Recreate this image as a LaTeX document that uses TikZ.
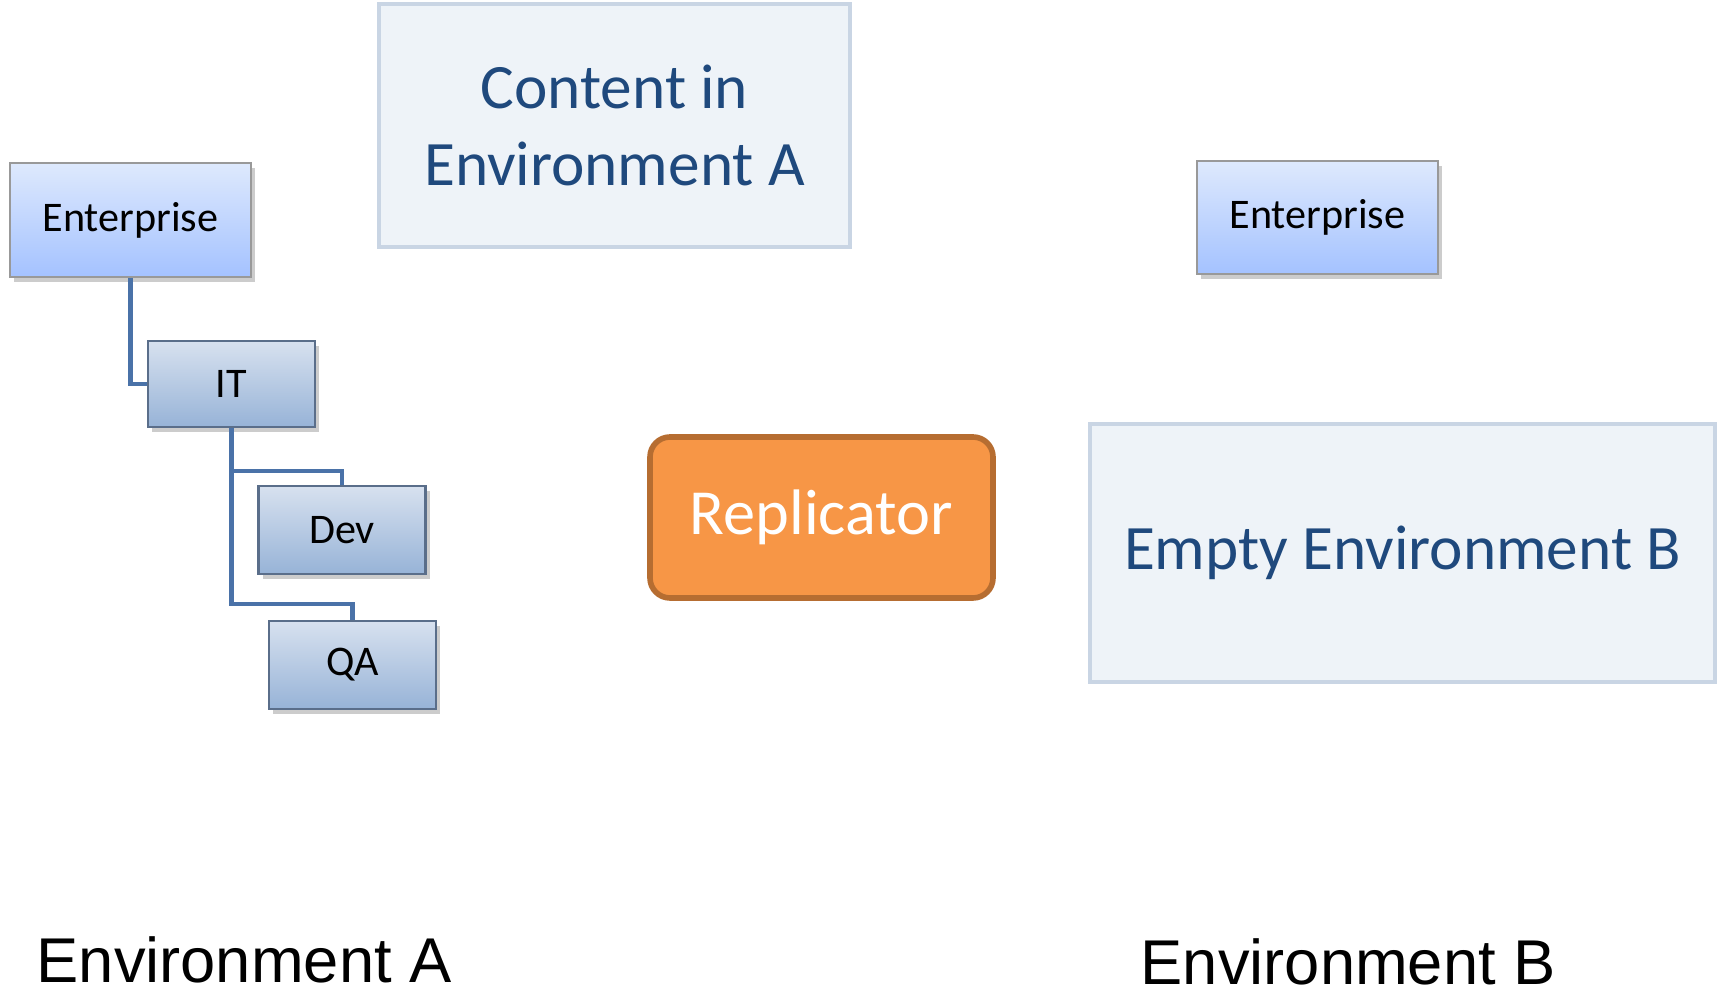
\documentclass[tikz,border=0pt]{standalone}
\usepackage{fontspec}
\setmainfont{Carlito}
\newfontfamily\arialfont{Liberation Sans}
\usepackage{xcolor}
\usetikzlibrary{shadows}
\definecolor{envtext}{HTML}{1F497D}
\definecolor{envfill}{HTML}{EEF3F8}
\definecolor{envline}{HTML}{C9D5E4}
\definecolor{orgline}{HTML}{4A72A8}
\definecolor{repfill}{HTML}{F79646}
\definecolor{repline}{HTML}{B66D31}
\tikzset{
    envbox/.style={draw=envline, line width=1pt, fill=envfill, text=envtext, font=\fontsize{18}{22}\selectfont, align=center},
    topbox/.style={draw=gray!80, line width=0.6pt, top color={rgb,255:red,222;green,233;blue,253}, bottom color={rgb,255:red,164;green,194;blue,255}, font=\fontsize{12}{14}\selectfont, drop shadow={shadow xshift=1.2pt, shadow yshift=-1.5pt, opacity=0.4}},
    unitbox/.style={draw={rgb,255:red,90;green,110;blue,138}, line width=0.8pt, top color={rgb,255:red,215;green,225;blue,239}, bottom color={rgb,255:red,151;green,179;blue,215}, font=\fontsize{12}{14}\selectfont, minimum width=1.67cm, drop shadow={shadow xshift=1.2pt, shadow yshift=-1.5pt, opacity=0.4}},
    link/.style={draw=orgline, line width=1.15pt}
}
\begin{document}
\begin{tikzpicture}
        \useasboundingbox (0,0) rectangle (17.17,9.9);
        %ENVIRONMENT A
        \node[envbox, minimum width=4.71cm, minimum height=2.43cm] (content) at (6.145,8.645) {Content in\\Environment A};
        \node[topbox, minimum width=2.41cm, minimum height=1.14cm] (entA) at (1.305,7.70) {Enterprise};
        \node[unitbox, minimum height=0.86cm] (it) at (2.315,6.06) {IT};
        \node[unitbox, minimum height=0.88cm] (dev) at (3.42,4.60) {Dev};
        \node[unitbox, minimum height=0.88cm] (qa) at (3.525,3.25) {QA};
        %TREE
        \draw[link] (entA.south) |- (it.west);
        \draw[link] (it.south) -- ++(0,-0.43) -| (dev.north);
        \draw[link] (it.south) -- ++(0,-1.76) -| (qa.north);
        %REPLICATOR
        \node[draw=repline, line width=1.6pt, fill=repfill, rounded corners=0.2cm, minimum width=3.43cm, minimum height=1.61cm, text=white, font=\fontsize{18.3}{21}\selectfont] (rep) at (8.215,4.725) {Replicator};
        %ENVIRONMENT B
        \node[topbox, minimum width=2.41cm, minimum height=1.13cm] (entB) at (13.175,7.725) {Enterprise};
        \node[envbox, minimum width=6.25cm, minimum height=2.58cm] (empty) at (14.025,4.37) {Empty Environment B};
        %LABELS
        \node[anchor=base west, inner sep=0pt, font=\arialfont\fontsize{18}{21}\selectfont] (labA) at (0.36,0.07) {Environment A};
        \node[anchor=base west, inner sep=0pt, font=\arialfont\fontsize{18}{21}\selectfont] (labB) at (11.40,0.05) {Environment B};
\end{tikzpicture}
\end{document}
